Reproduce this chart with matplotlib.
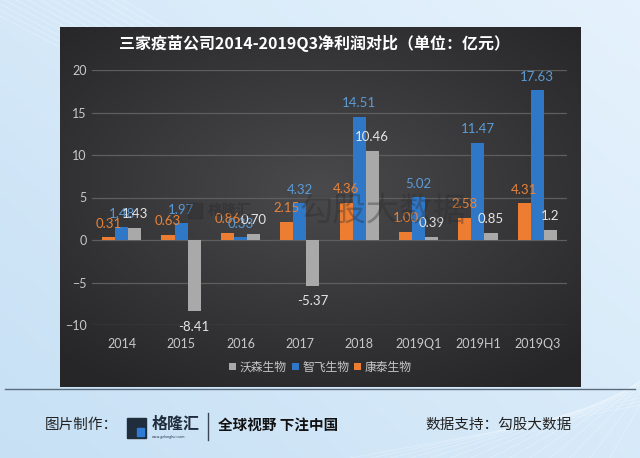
import numpy as np
import matplotlib
matplotlib.use("Agg")
import matplotlib.pyplot as plt
from matplotlib.patches import Rectangle

plt.rcParams['font.family'] = ['Noto Sans CJK SC', 'DejaVu Sans']

categories = ["2014", "2015", "2016", "2017", "2018", "2019Q1", "2019H1", "2019Q3"]
walvax = [1.43, -8.41, 0.70, -5.37, 10.46, 0.39, 0.85, 1.2]
zhifei = [1.48, 1.97, 0.33, 4.32, 14.51, 5.02, 11.47, 17.63]
kangtai = [0.31, 0.63, 0.86, 2.15, 4.36, 1.00, 2.58, 4.31]
walvax_labels = ["1.43", "-8.41", "0.70", "-5.37", "10.46", "0.39", "0.85", "1.2"]
zhifei_labels = ["1.48", "1.97", "0.33", "4.32", "14.51", "5.02", "11.47", "17.63"]
kangtai_labels = ["0.31", "0.63", "0.86", "2.15", "4.36", "1.00", "2.58", "4.31"]
yticks = [-10, -5, 0, 5, 10, 15, 20]
title = "三家疫苗公司2014-2019Q3净利润对比（单位：亿元）"

NUMFONT = ['Lato', 'DejaVu Sans']

W, H = 640, 458
fig = plt.figure(figsize=(W / 100, H / 100), dpi=100)

# outer light-blue background
bg = fig.add_axes([0, 0, 1, 1])
yy, xx = np.mgrid[0:1:200j, 0:1:300j]
base = 0.55 * xx + 0.45 * (1 - yy)
c0 = np.array([0.78, 0.88, 0.96])
c1 = np.array([0.90, 0.95, 0.99])
img = c0[None, None, :] * (1 - base[..., None]) + c1[None, None, :] * base[..., None]
bg.imshow(img, extent=[0, W, 0, H], aspect='auto', origin='upper')
for k in range(14):
    bg.plot([-50 + k * 12, 200 + k * 20], [H + 10, H - 120 - k * 6], color='white', lw=0.6, alpha=0.35)
    bg.plot([350 + k * 20, W + 40], [0, 60 + k * 5], color='white', lw=0.6, alpha=0.3)
bg.set_xlim(0, W)
bg.set_ylim(0, H)
bg.axis('off')

# footer
bg.plot([5, 635], [H - 389, H - 389], color='#5a6b7d', lw=1.0)
bg.plot([208, 208], [H - 440, H - 413], color='#3a4656', lw=1.0)
bg.add_patch(Rectangle((127, H - 438), 19, 20, color='#1f2d3d'))
bg.add_patch(Rectangle((137, H - 436), 7, 8, color='#2e7bd6'))
bg.text(152, H - 424, "格隆汇", fontsize=11.5, fontweight='bold', color='#1f2d3d', va='center', ha='left')
bg.text(152, H - 437, "www.gelonghui.com", fontsize=2.5, color='#1f2d3d', va='center', ha='left')
bg.text(45, H - 425, "图片制作：", fontsize=10.5, color='#222222', va='center', ha='left')
bg.text(218, H - 425, "全球视野 下注中国", fontsize=10.5, fontweight='bold', color='#111111', va='center', ha='left')
bg.text(425, H - 425, "数据支持：勾股大数据", fontsize=10.5, color='#222222', va='center', ha='left')

# dark panel
px0, py0, px1, py1 = 60, 27, 581, 387
panel = fig.add_axes([px0 / W, 1 - py1 / H, (px1 - px0) / W, (py1 - py0) / H])
gy, gx = np.mgrid[-1:1:200j, -1:1:300j]
r = np.sqrt((gx * 0.9) ** 2 + ((gy + 0.1) * 1.0) ** 2)
r = np.clip(r, 0, 1.3) / 1.3
inner = np.array([0.29, 0.29, 0.30])
outer = np.array([0.15, 0.15, 0.16])
pimg = inner[None, None, :] * (1 - r[..., None]) + outer[None, None, :] * r[..., None]
panel.imshow(pimg, extent=[0, 1, 0, 1], aspect='auto')
panel.axis('off')

# main axes
ax = fig.add_axes([92 / W, 1 - 325 / H, (567 - 92) / W, (325 - 70) / H])
ax.patch.set_alpha(0)
x = np.arange(len(categories))
bw = 0.22
c_or, c_bl, c_gr = '#ed7d31', '#2f78c8', '#a9a9a9'
b1 = ax.bar(x - bw, kangtai, bw, color=c_or, label='康泰生物', zorder=3)
b2 = ax.bar(x, zhifei, bw, color=c_bl, label='智飞生物', zorder=3)
b3 = ax.bar(x + bw, walvax, bw, color=c_gr, label='沃森生物', zorder=3)

def put_labels(bars, labels, color):
    for rect, lab in zip(bars, labels):
        h = rect.get_height()
        xc = rect.get_x() + rect.get_width() / 2
        if h >= 0:
            ax.annotate(lab, (xc, h), xytext=(0, 5.5), textcoords='offset points',
                        ha='center', va='bottom', fontsize=9.5, color=color, zorder=5,
                        family=NUMFONT)
        else:
            ax.annotate(lab, (xc, h), xytext=(0, -7), textcoords='offset points',
                        ha='center', va='top', fontsize=9.5, color=color, zorder=5,
                        family=NUMFONT)

put_labels(b1, kangtai_labels, '#e8833a')
put_labels(b2, zhifei_labels, '#5b9bd5')
put_labels(b3, walvax_labels, '#e6e6e6')

ax.set_ylim(-10, 20)
ax.set_xlim(-0.5, len(categories) - 0.5)
ax.set_yticks(yticks)
ax.set_xticks(x)
ax.set_xticklabels(categories)
ax.tick_params(axis='both', length=0, colors='#c8c8c8', labelsize=9)
ax.tick_params(axis='x', pad=9)
ax.tick_params(axis='y', pad=4)
for t in ax.get_xticklabels() + ax.get_yticklabels():
    t.set_family(NUMFONT)
ax.grid(axis='y', color='#5e5e5e', lw=0.9, zorder=0)
for s in ax.spines.values():
    s.set_visible(False)

# watermark
fig.patches.append(Rectangle((188 / W, 1 - 218 / H), 14 / W, 15 / H, transform=fig.transFigure,
                             color='#2a2a2a', alpha=0.35, zorder=10))
fig.text(230 / W, 1 - 210 / H, "格隆汇", fontsize=10.5, color='#2a2a2a', alpha=0.45,
         ha='center', va='center', fontweight='bold', zorder=10)
fig.text(383 / W, 1 - 212 / H, "勾股大数据", fontsize=24, color='#2a2a2a', alpha=0.35,
         ha='center', va='center', zorder=10)

handles = [b3, b2, b1]
leg = fig.legend(handles, ['沃森生物', '智飞生物', '康泰生物'], loc='center',
                 bbox_to_anchor=(320.5 / W, 1 - 367 / H), ncol=3, frameon=False, fontsize=8.5,
                 handlelength=0.6, handleheight=0.6, handletextpad=0.3, columnspacing=0.4)
for t in leg.get_texts():
    t.set_color('#c8c8c8')

fig.text(315 / W, 1 - 43 / H, title, fontsize=11.5, fontweight='bold', color='white',
         ha='center', va='center')

fig.savefig('out.png', dpi=100)
